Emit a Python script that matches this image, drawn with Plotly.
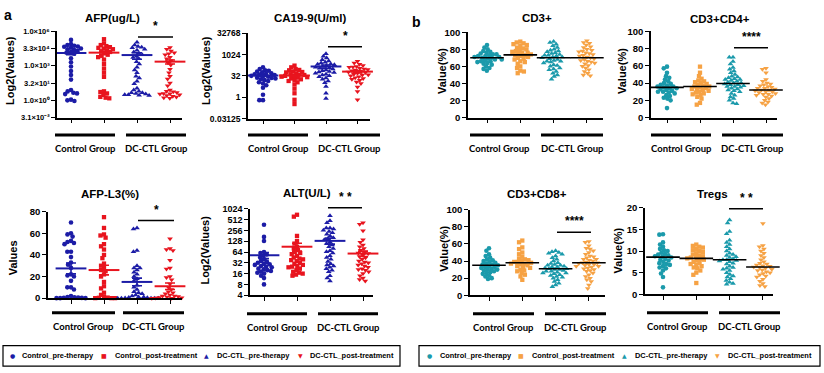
import math
import plotly.graph_objects as go

W, H = 824, 373

# ---------------- data ----------------
GROUPS = ["Control_pre-therapy", "Control_post-treatment", "DC-CTL_pre-therapy", "DC-CTL_post-treatment"]
GROUP_LABELS = ["Control Group", "DC-CTL Group"]

# AFP (ug/L)
afp_ctrl_pre = [185000, 80000, 65500, 57000, 46000, 37600, 32800, 24800, 20200, 16400, 14300, 11600, 4700, 2050,
                890, 360, 160, 64, 8, 6, 4.6, 3.5, 1.15, 0.87, 1.0, 4.0, 28500, 49600]
afp_ctrl_post = [212000, 92700, 65500, 53200, 43200, 32800, 28500, 23200, 18800, 16400, 12400, 9400, 5800, 3570,
                 1450, 590, 256, 111, 6.1, 5.3, 4.0, 3.0, 2.0, 1.5, 1.7, 37600, 7600]
afp_dc_pre = [114000, 65500, 49600, 37600, 28500, 23200, 16400, 12400, 9400, 7100, 4100, 2350, 1450, 780, 450, 256,
              128, 45, 28, 11.3, 8, 6.1, 4.6, 4.0, 3.5, 3.0, 2.8, 2.6, 3.0, 4.6, 43200, 5400, 90]
afp_dc_post = [40300, 28500, 20200, 14300, 9400, 5800, 4100, 2900, 1900, 1180, 512, 256, 128, 74, 32, 18.4, 8, 6.1,
               4.9, 4.0, 3.5, 3.0, 2.6, 2.3, 2.0, 1.7, 1.5, 3.7, 5.7, 11600]
afp_mean = [13300, 14300, 8800, 2350]
afp_sem = [4000, 4000, 5000, 900]

# CA19-9 (U/ml)
ca_ctrl_pre = [128, 97, 79, 64, 56, 48.5, 42, 37, 32, 28, 24, 21, 18.4, 16, 14, 11.3, 9.2, 7.0, 4.6, 1.5, 0.62, 0.62,
               73.5, 45, 30, 39, 22.6]
ca_ctrl_post = [169, 128, 97, 79, 64, 56, 48.5, 42, 37, 32, 28, 24, 21, 18.4, 16, 14, 11.3, 8, 4, 1.9, 0.66, 0.33,
                60, 39, 30, 84, 26]
ca_dc_pre = [1176, 776, 588, 446, 362, 294, 256, 223, 194, 169, 147, 128, 111, 97, 84, 73.5, 64, 56, 48.5, 42, 37, 32,
             28, 22.6, 18.4, 14, 10.6, 5.7, 1.9, 0.8, 208, 119, 60]
ca_dc_post = [338, 256, 208, 169, 147, 128, 111, 97, 84, 73.5, 64, 56, 48.5, 42, 37, 32, 28, 24, 21, 18.4, 16, 12,
              9.2, 5.3, 2.5, 0.66, 90, 60, 39, 137]
ca_mean = [34, 34, 147, 64]
ca_sem = [5, 5, 40, 12]

# AFP-L3 (%)
l3_ctrl_pre = [70, 60, 59, 57, 53, 52, 51, 50, 43, 38, 33, 31, 22, 20, 16, 10, 10, 8, 2, 1, 0.5, 0.3, 0.2, 0, 0, 0,
               0.8, 21, 28, 43]
l3_ctrl_post = [75, 65, 59, 58, 56, 50, 48, 45, 40, 37, 32, 28, 26, 22, 20, 15, 11, 9, 5, 3, 1, 0.5, 0.3, 0, 0, 0,
                30, 25]
l3_dc_pre = [65, 64, 44, 43, 30, 28, 28, 26, 24, 20, 18, 16, 12, 10, 8, 5, 4, 3, 2, 1, 1, 0.5, 0.3, 0.2, 0, 0, 0, 0,
             0, 22, 6]
l3_dc_post = [55, 46, 45, 44, 35, 28, 27, 20, 19, 17, 13, 10, 8, 6, 5, 3, 2, 1.5, 1, 0.5, 0.3, 0.2, 0, 0, 0, 0, 4, 2]
l3_mean = [27.5, 26, 15, 11]
l3_sem = [5, 4.5, 3.5, 3]

# ALT (U/L)
alt_ctrl_pre = [370, 169, 130, 64, 55, 50, 45, 40, 36, 32, 30, 28, 26, 25, 24, 22, 20, 19, 18, 17, 16, 14, 12, 8, 60,
                34, 29, 21]
alt_ctrl_post = [700, 620, 180, 130, 110, 90, 80, 72, 64, 56, 50, 45, 42, 40, 36, 32, 30, 28, 26, 24, 22, 20, 18, 17,
                 16, 15, 14, 60, 38, 25]
alt_dc_pre = [660, 480, 420, 300, 280, 260, 240, 220, 200, 180, 160, 140, 120, 110, 100, 90, 80, 70, 60, 50, 45, 40,
              35, 30, 28, 24, 22, 20, 18, 14, 12, 10, 300, 150, 65, 26]
alt_dc_post = [420, 380, 250, 140, 120, 100, 90, 80, 72, 64, 58, 52, 48, 44, 40, 36, 32, 30, 28, 26, 24, 22, 20, 18,
               16, 14, 12, 11, 10, 60, 34, 21]
alt_mean = [52, 90, 131, 58]
alt_sem = [10, 22, 25, 10]

# CD3+ (%)
cd3_ctrl_pre = [85, 82, 80, 78, 77, 76, 75, 74, 73, 72, 72, 71, 70, 70, 69, 68, 67, 66, 65, 64, 63, 62, 60, 58, 55,
                57, 74, 68, 71, 66]
cd3_ctrl_post = [89, 88, 87, 86, 85, 84, 82, 80, 79, 78, 77, 76, 75, 74, 73, 72, 71, 70, 68, 66, 65, 63, 60, 58, 55,
                 54, 52, 81, 76, 73, 69]
cd3_dc_pre = [89, 88, 86, 84, 82, 80, 79, 78, 77, 76, 75, 74, 73, 72, 71, 70, 69, 68, 67, 66, 65, 64, 62, 60, 58, 56,
              54, 52, 50, 48, 45, 71, 73, 66, 61, 57]
cd3_dc_post = [90, 88, 87, 85, 83, 82, 80, 79, 78, 76, 75, 74, 73, 72, 70, 69, 68, 67, 66, 65, 63, 61, 60, 58, 56,
               54, 52, 50, 49, 71, 77, 64]
cd3_mean = [70, 73.5, 70, 70]

# CD3+CD4+ (%)
cd4_ctrl_pre = [59, 57, 52, 48, 46, 44, 42, 40, 39, 38, 37, 36, 35, 34, 33, 32, 31, 30, 29, 28, 26, 25, 23, 22, 20,
                11, 36, 34, 30]
cd4_ctrl_post = [59, 52, 48, 45, 43, 42, 41, 40, 39, 38, 37, 36, 35, 34, 33, 32, 31, 30, 29, 28, 27, 26, 24, 22, 17,
                 15, 36, 33]
cd4_dc_pre = [70, 70, 65, 62, 58, 56, 54, 52, 50, 48, 47, 46, 45, 44, 43, 42, 41, 40, 39, 38, 37, 36, 35, 34, 33, 32,
              31, 30, 28, 26, 24, 22, 20, 17, 16, 40, 38, 44, 36]
cd4_dc_post = [57, 56, 52, 44, 42, 40, 39, 38, 37, 36, 35, 34, 33, 32, 31, 30, 29, 28, 27, 26, 25, 24, 22, 20, 18,
               17, 15, 32, 30, 34, 27]
cd4_mean = [35, 36, 39.5, 32]

# CD3+CD8+ (%)
cd8_ctrl_pre = [55, 52, 48, 46, 44, 42, 41, 40, 39, 38, 37, 36, 35, 34, 33, 32, 31, 30, 30, 29, 28, 27, 26, 25, 23,
                22, 20, 19, 36, 33]
cd8_ctrl_post = [64, 62, 56, 54, 50, 48, 45, 43, 42, 41, 40, 39, 38, 37, 36, 35, 34, 33, 32, 30, 29, 28, 26, 24, 22,
                 18, 37, 39]
cd8_dc_pre = [52, 51, 50, 49, 48, 46, 44, 42, 40, 38, 37, 36, 35, 34, 33, 32, 31, 30, 30, 29, 28, 27, 26, 25, 24, 23,
              22, 21, 20, 18, 16, 14, 12, 10, 31, 33, 28, 35, 26]
cd8_dc_post = [63, 62, 58, 55, 54, 52, 50, 48, 46, 45, 44, 42, 41, 40, 39, 38, 37, 36, 35, 34, 33, 32, 31, 30, 29,
               28, 26, 24, 22, 20, 18, 16, 12, 8, 38, 36, 42, 34]
cd8_mean = [35, 38, 31, 38]

# Tregs (%)
treg_ctrl_pre = [13.9, 13.8, 12, 11.5, 11, 10.5, 10.2, 10, 9.6, 9.3, 9, 8.8, 8.5, 8.2, 8, 7.8, 7.5, 7.2, 7, 6.8, 6.5,
                 6.2, 6, 5.5, 4.8, 4, 1.6, 8.7, 9.2]
treg_ctrl_post = [11.5, 11.2, 11, 10.8, 10.5, 10.2, 10, 9.8, 9.5, 9.2, 9, 8.8, 8.5, 8.2, 8, 7.8, 7.5, 7.2, 7, 6.8, 6.5,
                  6.2, 6, 5.5, 5, 4.5, 2.6, 8.3, 8.6]
treg_dc_pre = [17.2, 16.5, 14.5, 14, 12.5, 12, 11.5, 11, 10.5, 10, 9.5, 9, 8.7, 8.5, 8.2, 8, 7.7, 7.5, 7.2, 7, 6.5,
               6.2, 6, 5.5, 5, 4.6, 4.2, 4, 3.6, 3.2, 2.8, 2.5, 2.3, 8, 7.8, 9.2, 5.8]
treg_dc_post = [16.4, 11.3, 11, 10.5, 10, 9.5, 9, 8.5, 8, 7.5, 7.2, 7, 6.8, 6.5, 6.2, 6, 5.8, 5.5, 5.2, 5, 4.8, 4.5,
                4.2, 4, 3.5, 3, 2.5, 2, 1.8, 6.3, 6.6, 5.6]
treg_mean = [8.6, 8.3, 8.0, 6.3]

# tick values / labels
afp_tickvals = [2 ** 20, 2 ** 15, 2 ** 10, 2 ** 5, 2 ** 0, 2 ** -5]
afp_ticktext = ["1.0×10⁶", "3.3×10⁴", "1.0×10³", "3.2×10¹", "1.0×10⁰", "3.1×10⁻²"]
ca_tickvals = [32768, 1024, 32, 1, 0.03125]
ca_ticktext = ["32768", "1024", "32", "1", "0.03125"]
alt_tickvals = [1024, 512, 256, 128, 64, 32, 16, 8, 4]
alt_ticktext = ["1024", "512", "256", "128", "64", "32", "16", "8", "4"]

# ---------------- styling ----------------
BLUE, RED = "#1c1ca6", "#e8141e"
TEAL, ORANGE = "#1b9aab", "#f6a244"
COLORS_A = [BLUE, RED, BLUE, RED]
COLORS_B = [TEAL, ORANGE, TEAL, ORANGE]
SYMBOLS = ["circle", "square", "triangle-up", "triangle-down"]
SIZES = [4.6, 4.3, 5.0, 5.0]
FONT = "Liberation Sans, Arial, sans-serif"
LBL_FONT = "Lato, Open Sans, sans-serif"


def fx(p):
    return p / W


def fy(p):
    return 1 - p / H


panels = [
    dict(title="AFP(ug/L)", data=[afp_ctrl_pre, afp_ctrl_post, afp_dc_pre, afp_dc_post], mean=afp_mean, sem=afp_sem,
         log=True, yr=(2 ** -5, 2 ** 20), tv=afp_tickvals, tt=afp_ticktext, tfs=7.5, ytitle="Log2(Values)",
         x0=57, x1=182, y0=26, y1=115, c0=71, dc=33, colors=COLORS_A,
         g=(133, (55, 115), (126, 186)), t=(112, 12), yt=(10, 67),
         sig=(138, 173, 32, "*")),
    dict(title="CA19-9(U/ml)", data=[ca_ctrl_pre, ca_ctrl_post, ca_dc_pre, ca_dc_post], mean=ca_mean, sem=ca_sem,
         log=True, yr=(2 ** -5, 2 ** 15), tv=ca_tickvals, tt=ca_ticktext, tfs=8.5, ytitle="Log2(Values)",
         x0=248, x1=370, y0=28, y1=116, c0=263, dc=31.5, colors=COLORS_A,
         g=(133, (248, 308), (319, 380)), t=(310, 12), yt=(206, 67),
         sig=(328, 362, 42, "*")),
    dict(title="CD3+", data=[cd3_ctrl_pre, cd3_ctrl_post, cd3_dc_pre, cd3_dc_post], mean=cd3_mean, sem=None,
         log=False, yr=(0, 100), tv=[0, 20, 40, 60, 80, 100], tt=None, tfs=9.5, ytitle="Value(%)",
         x0=468, x1=603, y0=27, y1=115, c0=487, dc=33.3, colors=COLORS_B,
         g=(133, (470, 530), (541, 603)), t=(537, 12), yt=(442, 67), sig=None),
    dict(title="CD3+CD4+", data=[cd4_ctrl_pre, cd4_ctrl_post, cd4_dc_pre, cd4_dc_post], mean=cd4_mean, sem=None,
         log=False, yr=(0, 100), tv=[0, 20, 40, 60, 80, 100], tt=None, tfs=9.5, ytitle="Value(%)",
         x0=651, x1=777, y0=26, y1=115, c0=667, dc=33, colors=COLORS_B,
         g=(133, (651, 711), (722, 783)), t=(720, 13), yt=(622, 67),
         sig=(734, 768, 43, "****")),
    dict(title="AFP-L3(%)", data=[l3_ctrl_pre, l3_ctrl_post, l3_dc_pre, l3_dc_post], mean=l3_mean, sem=l3_sem,
         log=False, yr=(0, 80), tv=[0, 20, 40, 60, 80], tt=None, tfs=9.5, ytitle="Values",
         x0=48, x1=182, y0=212, y1=301, c0=71, dc=33, colors=COLORS_A,
         g=(316, (52, 115), (123, 184)), t=(110, 194), yt=(13, 260),
         sig=(138, 174, 221, "*")),
    dict(title="ALT(U/L)", data=[alt_ctrl_pre, alt_ctrl_post, alt_dc_pre, alt_dc_post], mean=alt_mean, sem=alt_sem,
         log=True, yr=(4, 1024), tv=alt_tickvals, tt=alt_ticktext, tfs=9, ytitle="Log2(Values)",
         x0=250, x1=373, y0=209, y1=298, c0=264, dc=33, colors=COLORS_A,
         g=(317, (247, 307), (318, 378)), t=(307, 193), yt=(205, 252),
         sig=(328, 362, 208, "* *")),
    dict(title="CD3+CD8+", data=[cd8_ctrl_pre, cd8_ctrl_post, cd8_dc_pre, cd8_dc_post], mean=cd8_mean, sem=None,
         log=False, yr=(0, 100), tv=[0, 20, 40, 60, 80, 100], tt=None, tfs=9.5, ytitle="Value(%)",
         x0=470, x1=605, y0=210, y1=298, c0=489, dc=33.3, colors=COLORS_B,
         g=(317, (473, 534), (545, 606)), t=(537, 194), yt=(444, 250),
         sig=(557, 591, 233, "****")),
    dict(title="Tregs", data=[treg_ctrl_pre, treg_ctrl_post, treg_dc_pre, treg_dc_post], mean=treg_mean, sem=None,
         log=False, yr=(0, 20), tv=[0, 5, 10, 15, 20], tt=None, tfs=9.5, ytitle="Value(%)",
         x0=645, x1=773, y0=208, y1=297, c0=663, dc=33.3, colors=COLORS_B,
         g=(316, (647, 708), (719, 780)), t=(712, 194), yt=(618, 252),
         sig=(729, 763, 209, "* *")),
]


def swarm_offsets(vals, p, diam=3.7):
    """Deterministic beeswarm: horizontal offsets (category units) computed from the y pixel positions."""
    r0, r1 = p["yr"]
    if p["log"]:
        r0, r1 = math.log10(r0), math.log10(r1)
    hpx = p["y1"] - p["y0"]

    def ypx(v):
        t = math.log10(v) if p["log"] else v
        return (t - r0) / (r1 - r0) * hpx

    ys = [ypx(v) for v in vals]
    order = sorted(range(len(vals)), key=lambda i: -ys[i])
    placed, xs = [], [0.0] * len(vals)
    for i in order:
        y = ys[i]
        forb = []
        for (qx, qy) in placed:
            dy = abs(y - qy)
            if dy < diam:
                h = math.sqrt(diam * diam - dy * dy)
                forb.append((qx - h, qx + h))
        cands = [0.0] + [a for a, b in forb] + [b for a, b in forb]
        cands.sort(key=lambda c: (abs(c), c))
        x = 0.0
        for c in cands:
            if all(not (a + 1e-6 < c < b - 1e-6) for a, b in forb):
                x = c
                break
        placed.append((x, y))
        xs[i] = x / p["dc"]
    return xs


fig = go.Figure()
layout = dict(width=W, height=H, autosize=False, margin=dict(l=0, r=0, t=0, b=0),
              paper_bgcolor="white", plot_bgcolor="white", showlegend=False,
              font=dict(family=FONT, color="black"))
shapes, annotations = [], []

for k, p in enumerate(panels, start=1):
    xs_name = "x" if k == 1 else f"x{k}"
    ys_name = "y" if k == 1 else f"y{k}"
    xa = "xaxis" if k == 1 else f"xaxis{k}"
    ya = "yaxis" if k == 1 else f"yaxis{k}"
    rlo = (p["x0"] - p["c0"]) / p["dc"]
    rhi = (p["x1"] - p["c0"]) / p["dc"]
    layout[xa] = dict(domain=[fx(p["x0"]), fx(p["x1"])], range=[rlo, rhi], anchor=ys_name,
                      showline=True, linecolor="black", linewidth=1.5, ticks="outside", ticklen=4,
                      tickwidth=1.2, tickcolor="black", tickvals=[0, 1, 2, 3], showticklabels=False,
                      showgrid=False, zeroline=False, fixedrange=True)
    yax = dict(domain=[fy(p["y1"]), fy(p["y0"])], anchor=xs_name, showline=True, linecolor="black",
               linewidth=1.5, ticks="outside", ticklen=4, tickwidth=1.2, tickcolor="black",
               tickvals=p["tv"], showgrid=False, zeroline=False, fixedrange=True,
               tickfont=dict(size=p["tfs"], family=FONT, color="black", weight="bold"))
    if p["log"]:
        yax.update(type="log", range=[math.log10(p["yr"][0]), math.log10(p["yr"][1])], ticktext=p["tt"])
    else:
        yax.update(range=list(p["yr"]))
    layout[ya] = yax

    for gi, vals in enumerate(p["data"]):
        offs = swarm_offsets(vals, p)
        fig.add_trace(go.Scatter(
            x=[gi + o for o in offs], y=vals, mode="markers", name=GROUPS[gi], xaxis=xs_name, yaxis=ys_name,
            cliponaxis=False, hoverinfo="y",
            marker=dict(symbol=SYMBOLS[gi], size=SIZES[gi], color=p["colors"][gi], line=dict(width=0))))
    # mean (+ SEM) lines
    for gi in range(4):
        col = p["colors"][gi] if p["sem"] is not None else "black"
        tr = dict(x=[gi], y=[p["mean"][gi]], mode="markers", xaxis=xs_name, yaxis=ys_name, cliponaxis=False,
                  marker=dict(symbol="line-ew", size=22 if p["sem"] is not None else 24,
                              line=dict(width=2 if p["sem"] is not None else 1.6, color=col)))
        if p["sem"] is not None:
            tr["error_y"] = dict(type="data", array=[p["sem"][gi]], color=col, thickness=1.6, width=5)
        fig.add_trace(go.Scatter(**tr))

    # group bracket lines and labels
    gy, gc, gd = p["g"]
    for (a, b), lab in zip([gc, gd], GROUP_LABELS):
        shapes.append(dict(type="line", xref="paper", yref="paper", x0=fx(a), x1=fx(b), y0=fy(gy), y1=fy(gy),
                           line=dict(color="black", width=3)))
        annotations.append(dict(text=lab, xref="paper", yref="paper", x=fx((a + b) / 2), y=fy(gy + 14),
                                showarrow=False, xanchor="center", yanchor="middle",
                                font=dict(family=LBL_FONT, size=9.5, color="black", weight="bold")))
    # title
    annotations.append(dict(text=p["title"], xref="paper", yref="paper", x=fx(p["t"][0]), y=fy(p["t"][1]),
                            showarrow=False, xanchor="center", yanchor="middle",
                            font=dict(family=FONT, size=11.5, color="black", weight="bold")))
    # y title
    annotations.append(dict(text=p["ytitle"], xref="paper", yref="paper", x=fx(p["yt"][0]), y=fy(p["yt"][1]),
                            showarrow=False, xanchor="center", yanchor="middle", textangle=-90,
                            font=dict(family=FONT, size=11, color="black", weight="bold")))
    # significance
    if p["sig"] is not None:
        sa, sb, sy, st = p["sig"]
        shapes.append(dict(type="line", xref="paper", yref="paper", x0=fx(sa), x1=fx(sb), y0=fy(sy), y1=fy(sy),
                           line=dict(color="black", width=1.5)))
        annotations.append(dict(text=st, xref="paper", yref="paper", x=fx((sa + sb) / 2), y=fy(sy - 2),
                                showarrow=False, xanchor="center", yanchor="bottom",
                                font=dict(family=FONT, size=12, color="black", weight="bold")))

# panel letters
annotations.append(dict(text="a", xref="paper", yref="paper", x=fx(8), y=fy(9), showarrow=False,
                        xanchor="center", yanchor="middle", font=dict(family=FONT, size=14, weight="bold")))
annotations.append(dict(text="b", xref="paper", yref="paper", x=fx(416), y=fy(16), showarrow=False,
                        xanchor="center", yanchor="middle", font=dict(family=FONT, size=14, weight="bold")))

# legends (two boxed rows of text)
GLYPHS = ["●", "■", "▲", "▼"]
leg_rows = [
    dict(box=(3, 350, 400, 371), items=[(12, 21), (104, 114), (206, 216), (300, 309)], colors=COLORS_A),
    dict(box=(419, 350, 820, 371), items=[(429, 439), (521, 531), (624, 634), (717, 727)], colors=COLORS_B),
]
for row in leg_rows:
    bx0, by0, bx1, by1 = row["box"]
    shapes.append(dict(type="rect", xref="paper", yref="paper", x0=fx(bx0), x1=fx(bx1), y0=fy(by1), y1=fy(by0),
                       line=dict(color="black", width=1.2), fillcolor="rgba(0,0,0,0)"))
    cy = (by0 + by1) / 2
    for gi, (mx, tx) in enumerate(row["items"]):
        annotations.append(dict(text=GLYPHS[gi], xref="paper", yref="paper", x=fx(mx), y=fy(cy), showarrow=False,
                                xanchor="center", yanchor="middle", borderpad=0,
                                font=dict(family="DejaVu Sans", size=6, color=row["colors"][gi])))
        annotations.append(dict(text=GROUPS[gi], xref="paper", yref="paper", x=fx(tx), y=fy(cy), showarrow=False,
                                xanchor="left", yanchor="middle", borderpad=0,
                                font=dict(family=FONT, size=7.4, color="black", weight="bold")))

layout["shapes"] = shapes
layout["annotations"] = annotations
fig.update_layout(**layout)
fig.write_html("out.html", config={"displayModeBar": False},
               post_script="document.body.style.margin='0';document.body.style.padding='0';"
                           "document.documentElement.style.overflow='hidden';")
